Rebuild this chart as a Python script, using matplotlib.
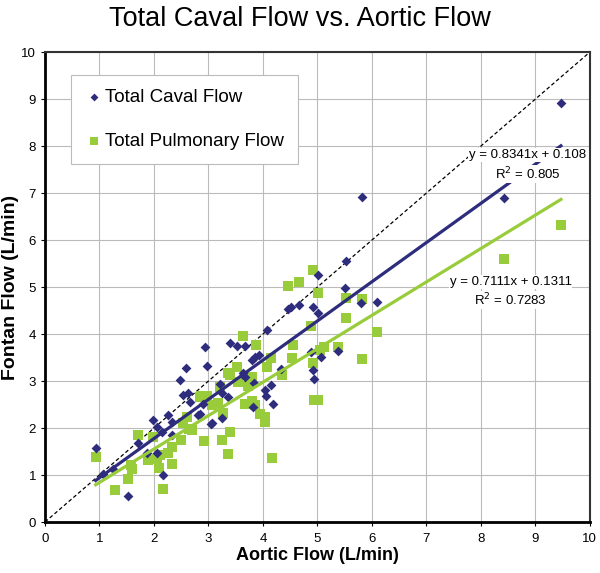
import numpy as np
import matplotlib.pyplot as plt

plt.rcParams['font.family'] = ['Liberation Sans', 'DejaVu Sans']

# Total caval flow (blue diamonds)
caval_x = [0.93, 1.06, 1.25, 1.52, 1.71, 1.87, 2.06, 2.17, 1.98, 2.06, 2.15, 2.26, 2.33, 2.33,
           2.48, 2.59, 2.53, 2.62, 2.66, 2.81, 2.90, 3.05, 2.94, 2.97, 2.84, 3.21, 3.25, 3.36,
           3.25, 3.06, 3.39, 3.52, 3.67, 3.80, 3.85, 3.93, 4.07, 3.63, 3.67, 3.83, 4.04, 4.05,
           4.15, 4.18, 3.82, 4.33, 4.46, 4.51, 4.66, 4.92, 5.01, 5.01, 5.52, 5.50, 5.80, 6.09,
           4.88, 5.06, 5.38, 4.92, 4.94, 5.82, 8.42, 9.47]
caval_y = [1.58, 1.02, 1.13, 0.55, 1.68, 1.47, 1.47, 1.00, 2.17, 2.02, 1.91, 2.28, 2.13, 1.85,
           3.02, 3.28, 2.70, 2.74, 2.55, 2.28, 2.51, 2.09, 3.72, 3.32, 2.30, 2.94, 2.74, 2.66,
           2.21, 2.11, 3.81, 3.74, 3.74, 3.45, 3.51, 3.55, 4.09, 3.17, 3.09, 2.96, 2.81, 2.68,
           2.91, 2.51, 2.45, 3.26, 4.53, 4.57, 4.62, 4.57, 4.45, 5.26, 5.55, 4.98, 4.66, 4.68,
           3.62, 3.51, 3.64, 3.23, 3.04, 6.91, 6.89, 8.91]

# Total pulmonary flow (green squares)
pulm_x = [0.93, 1.29, 1.52, 1.60, 1.58, 1.71, 1.89, 2.05, 2.09, 2.11, 2.17, 1.98, 2.26, 2.33,
          2.33, 2.50, 2.53, 2.64, 2.70, 2.61, 2.86, 2.97, 2.92, 3.06, 3.17, 3.63, 3.87, 3.52,
          3.36, 3.39, 3.54, 3.72, 3.80, 3.21, 3.27, 3.39, 3.25, 3.36, 3.67, 3.80, 3.85, 3.94,
          4.04, 4.04, 4.17, 4.15, 4.07, 4.35, 4.55, 4.53, 4.46, 4.66, 4.92, 5.01, 4.88, 4.92,
          4.94, 5.01, 5.05, 5.12, 5.38, 5.52, 5.52, 5.82, 5.82, 6.09, 2.84, 8.42, 9.47]
pulm_y = [1.38, 0.68, 0.91, 1.13, 1.21, 1.85, 1.32, 1.34, 1.15, 1.43, 0.70, 1.81, 1.47, 1.60,
          1.23, 1.74, 2.10, 1.98, 1.96, 2.23, 2.68, 2.68, 1.72, 2.49, 2.53, 3.96, 3.77, 3.30,
          3.17, 3.13, 2.98, 2.89, 3.09, 2.87, 2.32, 1.91, 1.74, 1.45, 2.51, 2.57, 2.49, 2.30,
          2.23, 2.13, 1.36, 3.49, 3.30, 3.13, 3.77, 3.49, 5.02, 5.11, 5.36, 4.87, 4.17, 3.38,
          2.60, 2.60, 3.66, 3.72, 3.72, 4.77, 4.34, 4.74, 3.47, 4.04, 2.66, 5.60, 6.32]

# trendline coefficients as printed on the chart
caval_fit = (0.8341, 0.108, 0.805)
pulm_fit = (0.7111, 0.1311, 0.7283)

blue = '#2E2D7D'
green = '#99CC3A'

fig = plt.figure(figsize=(6, 5.73), dpi=100)
ax = fig.add_axes([0.075, 0.089, 0.908, 0.820])

ax.plot([0, 10], [0, 10], color='black', linestyle=(0, (3, 2)), linewidth=0.9, zorder=2)

ax.scatter(caval_x, caval_y, marker='D', s=25, color=blue, zorder=4, label='Total Caval Flow',
           linewidths=0)
ax.scatter(pulm_x, pulm_y, marker='s', s=45, color=green, zorder=3, label='Total Pulmonary Flow',
           linewidths=0)

xs = np.array([min(caval_x), max(caval_x)])
ax.plot(xs, caval_fit[0] * xs + caval_fit[1], color=blue, linewidth=2.3, zorder=5)
xs = np.array([min(pulm_x), max(pulm_x)])
ax.plot(xs, pulm_fit[0] * xs + pulm_fit[1], color=green, linewidth=2.3, zorder=5)

box = dict(facecolor='white', edgecolor='none', pad=0.5)
ax.text(8.86, 7.81, f'y = {caval_fit[0]}x + {caval_fit[1]}', ha='center', va='center',
        fontsize=9.5, bbox=box, zorder=6)
ax.text(8.86, 7.40, f'R$^2$ = {caval_fit[2]}', ha='center', va='center', fontsize=9.5,
        bbox=box, zorder=6)
ax.text(8.55, 5.11, f'y = {pulm_fit[0]}x + {pulm_fit[1]}', ha='center', va='center',
        fontsize=9.5, bbox=box, zorder=6)
ax.text(8.55, 4.72, f'R$^2$ = {pulm_fit[2]}', ha='center', va='center', fontsize=9.5,
        bbox=box, zorder=6)

ax.set_xlim(0, 10)
ax.set_ylim(0, 10)
ax.set_xticks(range(11))
ax.set_yticks(range(11))
ax.grid(True, color='#BBBBBB', linewidth=0.8)
ax.set_axisbelow(True)
ax.tick_params(labelsize=9.5, length=3, width=0.8)
ax.tick_params(axis='x', pad=5)
for side in ['left', 'bottom']:
    ax.spines[side].set_linewidth(2)
for side in ['top', 'right']:
    ax.spines[side].set_linewidth(1.5)
    ax.spines[side].set_color('#333333')

ax.set_xlabel('Aortic Flow (L/min)', fontsize=13, fontweight='bold', labelpad=1)
ax.set_ylabel('Fontan Flow (L/min)', fontsize=14, fontweight='bold')
ax.yaxis.set_label_coords(-0.048, 0.5)
fig.suptitle('Total Caval Flow vs. Aortic Flow', fontsize=19.5, y=0.99)

leg = ax.legend(loc='upper left', bbox_to_anchor=(0.048, 0.951), borderaxespad=0, fontsize=13.5,
                frameon=True, fancybox=False, edgecolor='#BBBBBB', framealpha=1, borderpad=0.75,
                labelspacing=1.4, handletextpad=0.15, handlelength=0.9, markerscale=0.8)
leg.get_frame().set_linewidth(0.8)

fig.savefig('out.png', dpi=100)
